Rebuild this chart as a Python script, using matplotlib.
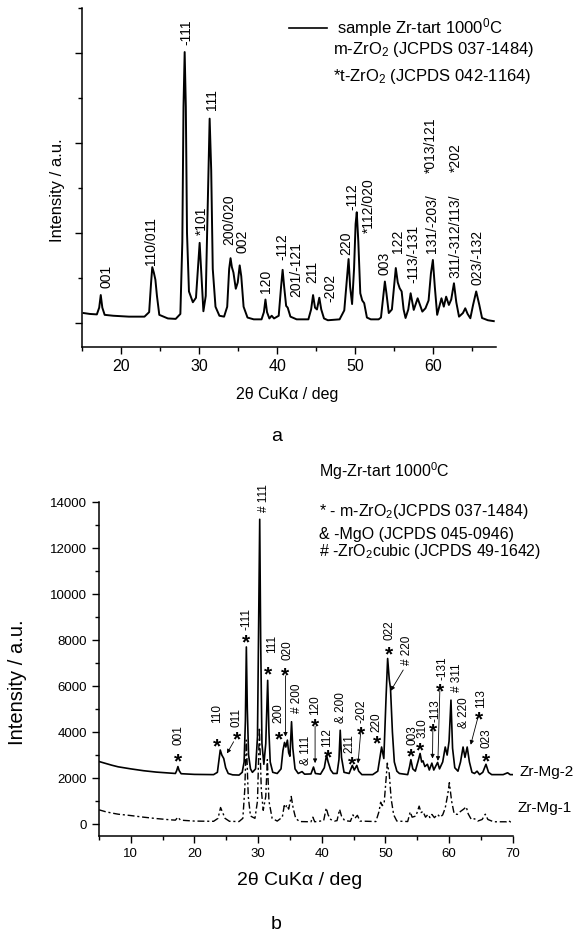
import matplotlib
matplotlib.use("Agg")
import matplotlib.pyplot as plt
from matplotlib.ticker import MultipleLocator

plt.rcParams['font.family'] = ['Liberation Sans', 'DejaVu Sans']
plt.rcParams['mathtext.fontset'] = 'custom'
plt.rcParams['mathtext.rm'] = 'Liberation Sans'
plt.rcParams['mathtext.default'] = 'regular'

# ---- panel a: Zr-tart 1000C (2theta, intensity a.u.) ----
two_theta_a = [15.2, 16.0, 16.9, 17.2, 17.4, 17.6, 17.9, 19.0, 21.0, 23.0, 23.6, 23.85, 24.0, 24.2,
               24.4, 24.6, 24.9, 26.0, 27.0, 27.6, 27.85, 28.0, 28.15, 28.3, 28.45, 28.7, 29.2, 29.6,
               29.85, 30.07, 30.25, 30.55, 30.85, 31.1, 31.35, 31.55, 31.75, 32.1, 32.6, 33.2, 33.6,
               33.85, 34.03, 34.2, 34.4, 34.7, 34.95, 35.2, 35.4, 35.7, 36.2, 37.0, 38.0, 38.3, 38.5,
               38.7, 39.0, 39.3, 39.6, 40.2, 40.5, 40.7, 40.9, 41.15, 41.35, 41.7, 42.5, 44.0, 44.35,
               44.6, 44.85, 45.1, 45.4, 45.65, 46.0, 46.5, 48.0, 48.6, 48.9, 49.15, 49.35, 49.6, 49.85,
               50.05, 50.2, 50.4, 50.65, 50.9, 51.15, 51.5, 52.0, 53.0, 53.3, 53.6, 53.8, 54.0, 54.3,
               54.7, 55.0, 55.2, 55.45, 55.7, 55.95, 56.2, 56.45, 56.8, 57.1, 57.5, 58.0, 58.6, 59.0,
               59.4, 59.7, 59.95, 60.2, 60.5, 61.05, 61.35, 61.65, 62.0, 62.3, 62.65, 62.95, 63.3,
               63.8, 64.1, 64.4, 64.75, 65.1, 65.5, 65.9, 66.25, 67.0, 67.75]
intensity_a = [110, 100, 95, 170, 310, 170, 90, 80, 70, 70, 120, 450, 620, 560,
               480, 300, 90, 50, 45, 100, 900, 2400, 3010, 2400, 1000, 350, 230, 280,
               600, 890, 600, 130, 300, 1300, 2270, 1700, 600, 180, 80, 70, 180,
               600, 720, 620, 560, 380, 450, 640, 520, 180, 60, 40, 40, 120, 260,
               120, 50, 80, 50, 80, 400, 590, 400, 190, 170, 70, 40, 40, 150,
               310, 170, 150, 280, 150, 50, 30, 40, 140, 450, 710, 400, 210, 600,
               1100, 1230, 900, 330, 250, 220, 60, 40, 40, 60, 300, 460, 330, 110,
               150, 420, 610, 450, 385, 350, 150, 55, 150, 330, 145, 274, 126, 163,
               250, 550, 700, 400, 90, 274, 181, 292, 200, 260, 441, 230, 70,
               110, 163, 100, 52, 200, 350, 200, 55, 30, 20]

# hkl labels for panel a: text, 2theta, bottom of text (a.u.)
labels_a = [("001", 18.1, 385), ("110/011", 23.9, 644), ("-111", 28.4, 3089),
            ("*101", 30.3, 978), ("111", 31.7, 2367), ("200/020", 33.9, 867),
            ("002", 35.5, 774), ("120", 38.6, 330), ("-112", 40.7, 700),
            ("201/-121", 42.4, 293), ("211", 44.5, 441), ("-202", 46.8, 237),
            ("220", 48.8, 756), ("-112", 49.6, 1256), ("*112/020", 51.7, 996),
            ("003", 53.8, 533), ("122", 55.5, 774), ("-113/-131", 57.5, 441),
            ("131/-203/", 59.9, 774), ("*013/121", 59.7, 1663),
            ("311/-312/113/", 62.85, 496), ("*202", 62.85, 1681), ("023/-132", 65.7, 422)]

# ---- panel b: Zr-Mg samples ----
two_theta_mg2 = [5.0, 6.0, 7.0, 8.0, 10.0, 12.0, 14.0, 16.0, 17.0, 17.2, 17.4, 17.6, 17.9, 20.0,
                 23.0, 23.6, 23.9, 24.05, 24.3, 24.6, 24.9, 25.3, 26.0, 27.0, 27.5, 27.8, 28.0,
                 28.15, 28.3, 28.5, 28.8, 29.1, 29.6, 29.9, 30.1, 30.25, 30.4, 30.6, 30.9, 31.2,
                 31.5, 31.7, 31.9, 32.3, 33.0, 33.6, 33.9, 34.15, 34.35, 34.6, 34.8, 35.0, 35.25,
                 35.45, 35.8, 36.3, 36.9, 37.3, 38.3, 38.7, 39.0, 39.8, 40.4, 40.75, 41.0, 41.4,
                 41.8, 42.4, 42.7, 42.9, 43.1, 43.5, 44.3, 44.8, 45.1, 45.5, 45.8, 46.3, 48.0,
                 48.8, 49.2, 49.4, 49.75, 50.1, 50.35, 50.6, 50.8, 51.1, 51.4, 51.8, 52.2, 53.5,
                 53.8, 54.0, 54.3, 54.7, 55.2, 55.45, 55.7, 55.9, 56.2, 56.6, 56.9, 57.3, 57.6,
                 58.2, 58.5, 59.0, 59.4, 59.7, 60.0, 60.3, 60.55, 60.9, 61.4, 61.8, 62.2, 62.5,
                 62.85, 63.2, 63.6, 64.0, 64.4, 64.8, 65.3, 65.8, 66.2, 66.7, 68.5, 69.2, 69.6, 70.0]
intensity_mg2 = [2720, 2640, 2560, 2490, 2400, 2320, 2260, 2220, 2200, 2320, 2500, 2320, 2190, 2160,
                 2150, 2250, 2900, 3220, 3000, 2850, 2450, 2200, 2140, 2130, 2250, 2700, 4500,
                 7700, 5000, 3000, 2400, 2250, 2400, 3800, 9000, 13250, 8000, 3500, 2600, 3500,
                 6250, 4000, 2700, 2250, 2200, 2400, 3200, 3550, 3350, 3650, 3100, 2950, 4450,
                 3300, 2400, 2200, 2280, 2170, 2180, 2480, 2200, 2170, 2450, 3000, 2700, 2350,
                 2200, 2200, 2800, 4080, 2900, 2250, 2200, 2550, 2350, 2550, 2300, 2150, 2150,
                 2300, 3000, 3350, 2850, 5500, 7200, 6300, 5900, 4000, 2700, 2300, 2200, 2150,
                 2500, 2800, 2400, 2300, 2800, 3070, 2700, 2750, 2500, 2600, 2350, 2650, 2350,
                 2680, 2400, 2700, 3350, 3000, 3600, 5390, 3300, 2450, 2300, 2700, 3350, 2900,
                 3350, 2700, 2250, 2200, 2300, 2150, 2250, 2600, 2250, 2150, 2150, 2230, 2150, 2150]

two_theta_mg1 = [5.0, 6.0, 7.0, 8.0, 10.0, 12.0, 14.0, 16.0, 17.0, 17.4, 17.8, 20.0, 23.0, 23.7,
                 24.1, 24.4, 24.8, 25.5, 27.0, 27.6, 27.9, 28.15, 28.45, 28.8, 29.5, 29.9, 30.2,
                 30.5, 30.8, 31.2, 31.45, 31.7, 32.2, 33.0, 33.8, 34.1, 34.3, 34.5, 34.8, 35.2,
                 35.5, 35.9, 36.5, 38.3, 38.6, 38.9, 40.3, 40.7, 41.0, 41.4, 42.0, 42.4, 42.8,
                 43.1, 43.6, 44.5, 44.9, 45.2, 45.6, 46.0, 48.5, 49.0, 49.25, 49.5, 49.8, 50.3,
                 50.6, 50.9, 51.3, 51.8, 53.5, 53.9, 54.2, 54.8, 55.3, 55.6, 55.9, 56.3, 56.7,
                 57.0, 57.3, 57.7, 58.2, 58.6, 59.0, 59.4, 59.8, 60.05, 60.4, 60.8, 61.3, 61.8,
                 62.3, 62.7, 63.0, 63.5, 64.0, 64.5, 65.2, 65.7, 66.1, 67.0, 69.0, 69.3, 69.7, 70.0]
intensity_mg1 = [620, 540, 480, 430, 370, 300, 240, 190, 170, 300, 170, 130, 120, 250,
                 720, 520, 250, 120, 110, 250, 1500, 3650, 1200, 350, 250, 1000, 4200,
                 1500, 600, 1200, 2800, 1000, 250, 130, 300, 800, 700, 830, 650, 1200,
                 700, 250, 110, 100, 300, 100, 150, 700, 400, 200, 130, 150, 640,
                 350, 150, 120, 400, 250, 380, 130, 110, 550, 950, 800, 900, 2650,
                 2200, 1100, 400, 130, 110, 530, 300, 350, 780, 500, 550, 300, 420,
                 280, 420, 280, 420, 300, 400, 700, 1300, 1800, 1000, 450, 420, 550,
                 650, 750, 450, 200, 230, 130, 200, 430, 200, 100, 100, 150, 90, 90]

# rotated hkl labels for panel b: text, 2theta, bottom of text
labels_b = [("001", 17.5, 3430), ("110", 23.6, 4390), ("011", 26.6, 4230),
            ("-111", 28.15, 8430), ("# 111", 30.9, 13580), ("111", 32.2, 7420),
            ("020", 34.55, 7130), ("200", 33.25, 4380), ("# 200", 36.1, 4810),
            ("& 111", 37.6, 2570), ("120", 39.0, 4740), ("112", 40.9, 3360),
            ("& 200", 42.95, 4380), ("211", 44.4, 3070), ("-202", 46.2, 4380),
            ("220", 48.6, 4010), ("022", 50.6, 8000), ("# 220", 53.45, 6910),
            ("003", 54.2, 3430), ("310", 55.8, 3730), ("-113", 57.8, 4450),
            ("-131", 59.0, 6260), ("# 311", 61.2, 5750), ("& 220", 62.4, 4160),
            ("113", 65.1, 5030), ("023", 65.9, 3290)]
# m-ZrO2 asterisks
stars_b = [(17.4, 3000), (23.6, 3650), (26.6, 3940), (28.15, 8140), (31.55, 6770),
           (34.2, 6730), (33.25, 3940), (39.0, 4500), (40.9, 3140), (44.8, 2860),
           (46.1, 4160), (48.6, 3770), (50.55, 7640), (54.0, 3220), (55.5, 3480),
           (57.5, 4300), (58.6, 6040), (64.75, 4800), (65.8, 3000)]
# arrows: start -> tip
arrows_b = [(26.15, 3580, 25.1, 3070), (34.3, 6450, 34.3, 3800), (38.95, 4250, 38.95, 2650),
            (46.1, 3940, 45.7, 2640), (52.8, 6700, 50.85, 5800), (57.45, 4080, 57.4, 2850),
            (58.55, 5800, 58.25, 2750), (64.5, 4600, 63.4, 3450)]

fig = plt.figure(figsize=(5.76, 9.36), dpi=100)


def style_axes(ax, lab_size):
    for side in ('top', 'right'):
        ax.spines[side].set_visible(False)
    for side in ('left', 'bottom'):
        ax.spines[side].set_linewidth(1.1)
    ax.tick_params(which='major', direction='out', length=5, width=1.0, labelsize=lab_size)
    ax.tick_params(which='minor', direction='out', length=3, width=1.0)


# ---------- panel a ----------
ax1 = fig.add_axes([0.1424, 0.6293, 0.7182, 0.3622])
ax1.plot(two_theta_a, intensity_a, color='black', lw=1.4)
ax1.set_xlim(15, 68)
ax1.set_ylim(-267, 3500)
ax1.xaxis.set_major_locator(MultipleLocator(10))
ax1.xaxis.set_minor_locator(MultipleLocator(5))
ax1.yaxis.set_major_locator(MultipleLocator(1000))
ax1.yaxis.set_minor_locator(MultipleLocator(500))
ax1.set_yticklabels([])
style_axes(ax1, 11.5)
ax1.set_xlabel('2θ CuKα / deg', fontsize=11.5)
ax1.xaxis.set_label_coords(0.495, -0.118)
ax1.set_ylabel('Intensity / a.u.', fontsize=12)
ax1.yaxis.set_label_coords(-0.041, 0.463)

for txt, x, y in labels_a:
    ax1.text(x, y, txt, rotation=90, ha='center', va='bottom', fontsize=10)

# legend block
ax1.plot([0.50, 0.5915], [0.941, 0.941], color='black', lw=1.2, transform=ax1.transAxes)
ax1.text(0.617, 0.941, 'sample Zr-tart 1000$^0$C', transform=ax1.transAxes,
         va='center', ha='left', fontsize=12)
ax1.text(0.606, 0.876, 'm-ZrO$_2$ (JCPDS 037-1484)', transform=ax1.transAxes,
         va='center', ha='left', fontsize=12)
ax1.text(0.607, 0.799, '*t-ZrO$_2$ (JCPDS 042-1164)', transform=ax1.transAxes,
         va='center', ha='left', fontsize=12)

fig.text(0.480, 0.5334, 'a', ha='center', va='center', fontsize=14)

# ---------- panel b ----------
ax2 = fig.add_axes([0.1719, 0.1068, 0.7182, 0.3568])
ax2.plot(two_theta_mg2, intensity_mg2, color='black', lw=1.2)
ax2.plot(two_theta_mg1, intensity_mg1, color='black', lw=1.0, linestyle=(0, (5, 2, 1.5, 2)))
ax2.set_xlim(5, 70)
ax2.set_ylim(-520, 14000)
ax2.xaxis.set_major_locator(MultipleLocator(10))
ax2.xaxis.set_minor_locator(MultipleLocator(5))
ax2.yaxis.set_major_locator(MultipleLocator(2000))
ax2.yaxis.set_minor_locator(MultipleLocator(1000))
style_axes(ax2, 9.5)
ax2.set_xlabel('2θ CuKα / deg', fontsize=14)
ax2.xaxis.set_label_coords(0.486, -0.108)
ax2.set_ylabel('Intensity / a.u.', fontsize=14.5)
ax2.yaxis.set_label_coords(-0.174, 0.462)

for txt, x, y in labels_b:
    ax2.text(x, y, txt, rotation=90, ha='center', va='bottom', fontsize=8.5)
for x, y in stars_b:
    ax2.annotate('*', xy=(x, y), xytext=(0, -8.6), textcoords='offset points',
                 ha='center', va='baseline', fontsize=15, fontweight='bold')
for x0, y0, x1, y1 in arrows_b:
    ax2.annotate('', xy=(x1, y1), xytext=(x0, y0),
                 arrowprops=dict(arrowstyle='-|>', lw=0.6, color='black', mutation_scale=6,
                                 shrinkA=0, shrinkB=0))

ax2.text(71.0, 2270, 'Zr-Mg-2', va='center', ha='left', fontsize=11, clip_on=False)
ax2.text(70.8, 700, 'Zr-Mg-1', va='center', ha='left', fontsize=11, clip_on=False)

ax2.text(0.5325, 1.094, 'Mg-Zr-tart 1000$^0$C', transform=ax2.transAxes,
         va='center', ha='left', fontsize=11.5)
ax2.text(0.5325, 0.971, '* - m-ZrO$_2$(JCPDS 037-1484)', transform=ax2.transAxes,
         va='center', ha='left', fontsize=11.5)
ax2.text(0.5325, 0.902, '& -MgO (JCPDS 045-0946)', transform=ax2.transAxes,
         va='center', ha='left', fontsize=11.5)
ax2.text(0.5325, 0.852, '# -ZrO$_2$cubic (JCPDS 49-1642)', transform=ax2.transAxes,
         va='center', ha='left', fontsize=11.5)

fig.text(0.480, 0.0128, 'b', ha='center', va='center', fontsize=14)

fig.savefig('out.png', dpi=100)
